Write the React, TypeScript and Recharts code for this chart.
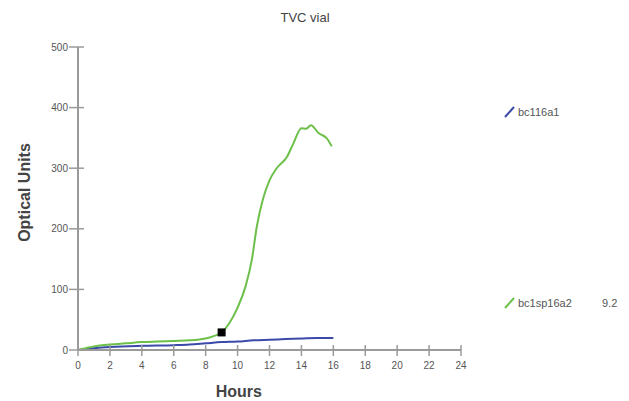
import { LineChart, Line, XAxis, YAxis, ReferenceDot, Label } from 'recharts';

const hours = [0, 0.5, 1, 1.5, 2, 3, 4, 5, 6, 7, 7.5, 8, 8.5, 9, 9.5, 10, 10.5, 10.9, 11.2, 11.6, 12, 12.45, 13.1, 13.5, 14, 14.3, 14.6, 15.07, 15.6, 15.9];
const bc1sp16a2 = [0, 3, 6, 8, 9, 11, 13, 14, 15, 16, 17, 19, 23, 29, 45, 70, 105, 150, 203, 250, 280, 300, 319, 341, 366, 365, 371, 358, 349, 336];

const blueHours = [0, 1, 2, 4, 6, 7, 8, 9, 10, 11, 12, 13, 14, 15, 16];
const bc116a1 = [0, 3, 5, 7, 8, 9, 11, 13, 14, 16, 17, 18, 19, 20, 20];

const xTicks = [0, 2, 4, 6, 8, 10, 12, 14, 16, 18, 20, 22, 24];
const yTicks = [0, 100, 200, 300, 400, 500];
const marker = { hour: 9, value: 29 };

const greenData = hours.map((h, i) => ({ h, v: bc1sp16a2[i] }));
const blueData = blueHours.map((h, i) => ({ h, v: bc116a1[i] }));

const axisColor = '#9a9a9a';
const textColor = '#555';
const font = '"Liberation Sans", Arial, sans-serif';

function YTick(props: any) {
    const { x, y, payload } = props;
    return (
        <g>
            <line x1={x - 9} x2={x + 6} y1={y} y2={y} stroke={axisColor} strokeWidth={1.5} />
            <text x={x - 10} y={y} dy={3.5} textAnchor="end" fontSize={10} fill={textColor} fontFamily={font}>
                {payload.value}
            </text>
        </g>
    );
}

function XTick(props: any) {
    const { x, y, payload } = props;
    return (
        <g>
            <line x1={x} x2={x} y1={y - 5} y2={y + 6} stroke={axisColor} strokeWidth={1.5} />
            <text x={x} y={y + 19} textAnchor="middle" fontSize={10} fill={textColor} fontFamily={font}>
                {payload.value}
            </text>
        </g>
    );
}

function LegendBox() {
    return (
        <svg width={129} height={215} style={{ position: 'absolute', left: 500, top: 100 }}>
            <line x1={5} y1={17} x2={14} y2={7} stroke="#3b4aa8" strokeWidth={2} />
            <text x={18} y={16} fontSize={11} fill={textColor} fontFamily={font}>bc116a1</text>
            <line x1={5} y1={208} x2={14} y2={198} stroke="#6cc04a" strokeWidth={2} />
            <text x={18} y={207} fontSize={11} fill={textColor} fontFamily={font}>bc1sp16a2</text>
            <text x={102} y={207} fontSize={11} fill={textColor} fontFamily={font}>9.2</text>
        </svg>
    );
}

export default function App() {
    return (
        <div style={{ position: 'absolute', left: 0, top: 0, width: 629, height: 401, background: '#fff' }}>
            <div style={{ position: 'absolute', left: 0, width: 610, top: 10, textAlign: 'center', fontSize: 13, color: '#444', fontFamily: font }}>
                TVC vial
            </div>
            <LineChart width={629} height={401} margin={{ top: 47, right: 168, bottom: 0, left: 0 }}>
                <XAxis
                    dataKey="h"
                    type="number"
                    domain={[0, 24]}
                    ticks={xTicks}
                    interval={0}
                    height={51}
                    stroke={axisColor}
                    strokeWidth={2}
                    tickLine={false}
                    tickSize={0}
                    tickMargin={0}
                    tick={<XTick />}
                    allowDuplicatedCategory={false}
                >
                    <Label
                        content={({ viewBox }: any) => (
                            <text x={viewBox.x + viewBox.width * 0.42} y={viewBox.y + 47} textAnchor="middle" fontSize={16} fontWeight="bold" fill="#444" fontFamily={font}>
                                Hours
                            </text>
                        )}
                    />
                </XAxis>
                <YAxis
                    type="number"
                    domain={[0, 500]}
                    ticks={yTicks}
                    interval={0}
                    width={78}
                    stroke={axisColor}
                    strokeWidth={2}
                    tickLine={false}
                    tickSize={0}
                    tickMargin={0}
                    tick={<YTick />}
                >
                    <Label
                        content={({ viewBox }: any) => {
                            const cx = 30;
                            const cy = viewBox.y + viewBox.height / 2 - 6;
                            return (
                                <text x={cx} y={cy} transform={`rotate(-90, ${cx}, ${cy})`} textAnchor="middle" fontSize={16} fontWeight="bold" fill="#444" fontFamily={font}>
                                    Optical Units
                                </text>
                            );
                        }}
                    />
                </YAxis>
                <Line data={blueData} dataKey="v" name="bc116a1" type="monotone" stroke="#3b4aa8" strokeWidth={2} dot={false} isAnimationActive={false} />
                <Line data={greenData} dataKey="v" name="bc1sp16a2" type="monotone" stroke="#6cc04a" strokeWidth={2} dot={false} isAnimationActive={false} />
                <ReferenceDot
                    x={marker.hour}
                    y={marker.value}
                    r={4}
                    shape={(p: any) => <rect x={p.cx - 4} y={p.cy - 4} width={8} height={8} fill="#000" />}
                />
            </LineChart>
            <LegendBox />
        </div>
    );
}
